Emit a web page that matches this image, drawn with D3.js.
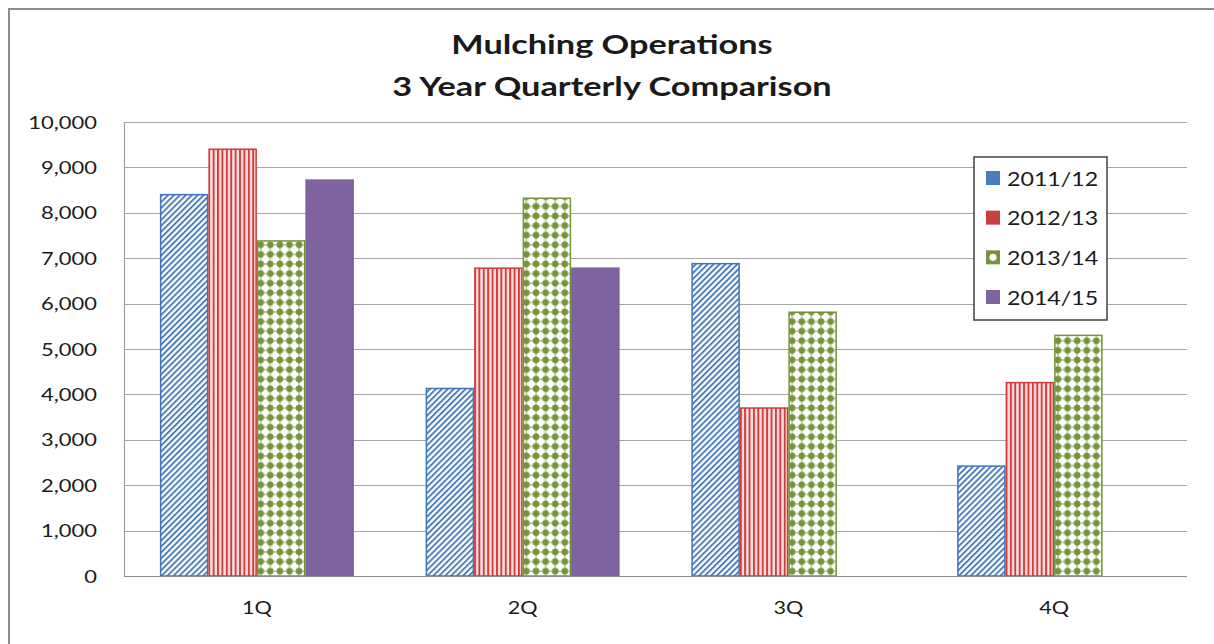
<!DOCTYPE html>
<html>
<head>
<meta charset="utf-8">
<script src="https://d3js.org/d3.v7.min.js"></script>
<style>
  html, body { margin: 0; padding: 0; background: #fff; }
  svg { display: block; }
  text { font-family: Lato, "Open Sans", "Liberation Sans", sans-serif; fill: #1a1a1a; }
</style>
</head>
<body>
<svg id="chart" width="1214" height="644"></svg>
<script>
const titleLines = ["Mulching Operations", "3 Year Quarterly Comparison"];
const categories = ["1Q", "2Q", "3Q", "4Q"];
const seriesNames = ["2011/12", "2012/13", "2013/14", "2014/15"];
const values2011 = [8400, 4130, 6880, 2420];
const values2012 = [9400, 6780, 3700, 4260];
const values2013 = [7380, 8320, 5810, 5300];
const values2014 = [8720, 6780, null, null];
const yTicks = [0, 1000, 2000, 3000, 4000, 5000, 6000, 7000, 8000, 9000, 10000];

const seriesValues = [values2011, values2012, values2013, values2014];
const seriesStyle = [
  { fill: "url(#pBlue)", stroke: "#3f74b8", swatch: "#4a7ebb" },
  { fill: "url(#pRed)", stroke: "#cc3b3b", swatch: "#c8413f" },
  { fill: "url(#pGreen)", stroke: "#74923a", swatch: "#77933c" },
  { fill: "#8064a2", stroke: "#7b5f9e", swatch: "#8064a2" }
];

const svg = d3.select("#chart");
const SX = 1.2; // horizontal stretch of the original's lettering

function stretchedText(g, x, y, str, opts) {
  const t = g.append("text")
    .attr("transform", `translate(${x},${y}) scale(${opts.sx || SX},1)`)
    .attr("text-anchor", opts.anchor || "start")
    .attr("font-size", opts.size)
    .attr("font-weight", opts.weight || "normal")
    .text(str);
  return t;
}

// patterns
const defs = svg.append("defs");
const pb = defs.append("pattern").attr("id", "pBlue").attr("patternUnits", "userSpaceOnUse")
  .attr("width", 4.2).attr("height", 4.2).attr("patternTransform", "rotate(45)");
pb.append("rect").attr("width", 4.2).attr("height", 4.2).attr("fill", "#fff");
pb.append("rect").attr("x", 0).attr("y", 0).attr("width", 1.9).attr("height", 4.2).attr("fill", "#4a7ebb");

const pr = defs.append("pattern").attr("id", "pRed").attr("patternUnits", "userSpaceOnUse")
  .attr("width", 4.4).attr("height", 10);
pr.append("rect").attr("width", 4.4).attr("height", 10).attr("fill", "#f8e0e0");
pr.append("rect").attr("x", 0).attr("width", 1.9).attr("height", 10).attr("fill", "#d33a3c");

const pg = defs.append("pattern").attr("id", "pGreen").attr("patternUnits", "userSpaceOnUse")
  .attr("width", 9.6).attr("height", 9.6);
pg.append("rect").attr("width", 9.6).attr("height", 9.6).attr("fill", "#fff");
pg.append("circle").attr("cx", 4.8).attr("cy", 4.8).attr("r", 3.3).attr("fill", "#76923c");
pg.append("rect").attr("x", 4.1).attr("y", 0).attr("width", 1.4).attr("height", 9.6).attr("fill", "#76923c").attr("opacity", 0.6);
pg.append("rect").attr("x", 0).attr("y", 4.1).attr("width", 9.6).attr("height", 1.4).attr("fill", "#76923c").attr("opacity", 0.6);

// outer frame
svg.append("rect").attr("x", 9).attr("y", 9).attr("width", 1230).attr("height", 660)
  .attr("fill", "none").attr("stroke", "#8c8c8c").attr("stroke-width", 2);

const plot = { left: 124, right: 1187, top: 122, bottom: 576 };
const y = d3.scaleLinear().domain([0, 10000]).range([plot.bottom, plot.top]);
const x0 = d3.scaleBand().domain(categories).range([plot.left, plot.right])
  .paddingInner(0.27).paddingOuter(0.135);
const x1 = d3.scaleBand().domain(seriesNames).range([0, x0.bandwidth()]);

// gridlines
svg.append("g").selectAll("line").data(yTicks.filter(d => d > 0)).join("line")
  .attr("x1", plot.left).attr("x2", plot.right)
  .attr("y1", d => Math.round(y(d)) + 0.5).attr("y2", d => Math.round(y(d)) + 0.5)
  .attr("stroke", "#a6a6a6").attr("stroke-width", 1);

// y labels
const yl = svg.append("g");
yTicks.forEach(d => stretchedText(yl, 97, y(d) + 6.5, d3.format(",")(d), { anchor: "end", size: 18, sx: 1.22 }));

// bars
const groups = svg.append("g").selectAll("g").data(categories).join("g")
  .attr("transform", d => `translate(${x0(d)},0)`);
groups.selectAll("rect")
  .data((c, ci) => seriesNames.map((s, si) => ({ s, si, v: seriesValues[si][ci] })).filter(d => d.v != null))
  .join("rect")
  .attr("x", d => x1(d.s) + 0.75)
  .attr("width", x1.bandwidth() - 1.5)
  .attr("y", d => y(d.v))
  .attr("height", d => y(0) - y(d.v))
  .attr("fill", d => seriesStyle[d.si].fill)
  .attr("stroke", d => seriesStyle[d.si].stroke)
  .attr("stroke-width", 1.5);

// axes lines
svg.append("line").attr("x1", plot.left + 0.5).attr("x2", plot.left + 0.5)
  .attr("y1", plot.top).attr("y2", plot.bottom).attr("stroke", "#a0a0a0").attr("stroke-width", 1.2);
svg.append("line").attr("x1", plot.left).attr("x2", plot.right)
  .attr("y1", plot.bottom + 0.5).attr("y2", plot.bottom + 0.5).attr("stroke", "#8c8c8c").attr("stroke-width", 1.2);

// x labels
const xl = svg.append("g");
categories.forEach(c => stretchedText(xl, x0(c) + x0.bandwidth() / 2, 614, c, { anchor: "middle", size: 18, sx: 1.2 }));

// title
const tg = svg.append("g");
stretchedText(tg, 612, 54, titleLines[0], { anchor: "middle", size: 27, weight: "bold", sx: 1.27 });
stretchedText(tg, 612, 96, titleLines[1], { anchor: "middle", size: 27, weight: "bold", sx: 1.27 });

// legend
const lg = svg.append("g");
lg.append("rect").attr("x", 974).attr("y", 157).attr("width", 133).attr("height", 163)
  .attr("fill", "#fff").attr("stroke", "#404040").attr("stroke-width", 1.5);
const legendY = d3.scalePoint().domain(seriesNames).range([178, 297]);
seriesNames.forEach((s, i) => {
  const cy = legendY(s);
  lg.append("rect").attr("x", 986).attr("y", cy - 7).attr("width", 14).attr("height", 14)
    .attr("fill", seriesStyle[i].swatch);
  if (i === 2) {
    lg.append("circle").attr("cx", 993).attr("cy", cy).attr("r", 3.6).attr("fill", "#fff");
  }
  stretchedText(lg, 1007, cy + 7.5, s, { anchor: "start", size: 20, sx: 1.16 });
});
</script>
</body>
</html>
